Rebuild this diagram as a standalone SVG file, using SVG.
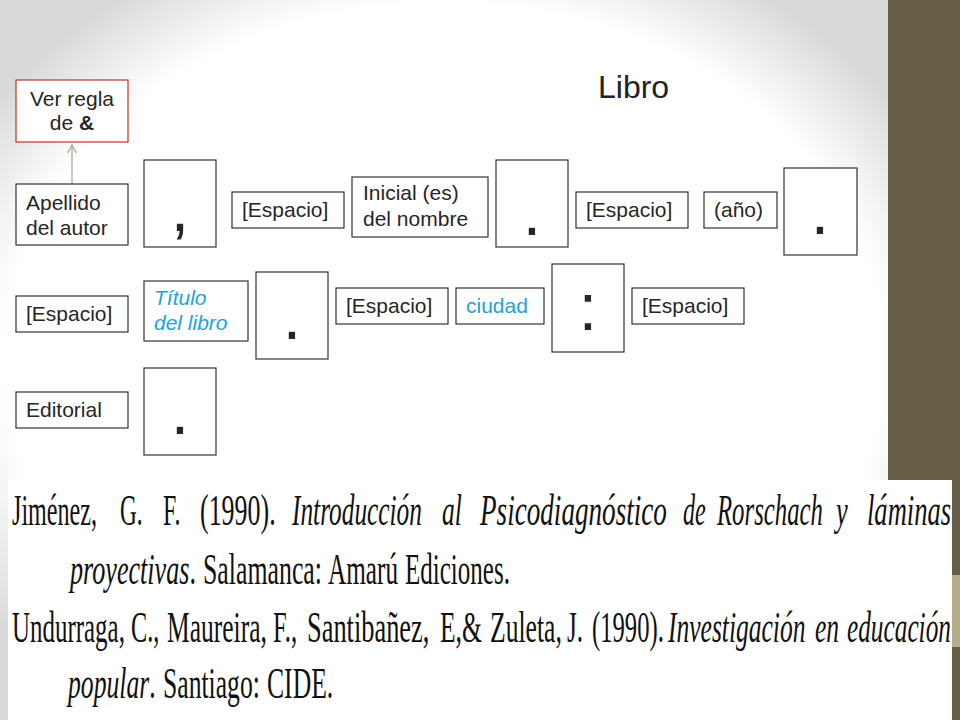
<svg xmlns="http://www.w3.org/2000/svg" width="960" height="720" viewBox="0 0 960 720">
<style>
.box{fill:#fff;stroke:#333;stroke-width:1.2}
.lbl{font-family:"Liberation Sans",Arial,sans-serif;font-size:21px;fill:#262626}
.blue{fill:#22a2de}
.it{font-style:italic}
.pun{font-family:"Liberation Sans",Arial,sans-serif;font-size:66px;fill:#262626;text-anchor:middle}
.ref{font-family:"Liberation Serif","Times New Roman",serif;font-size:44px;fill:#111}
</style>
<defs>
<radialGradient id="bg" cx="0.5" cy="0.5" r="0.62">
<stop offset="0" stop-color="#fff"/>
<stop offset="0.8" stop-color="#fff"/>
<stop offset="1" stop-color="#d9d9d9"/>
</radialGradient>
<marker id="arr" markerUnits="userSpaceOnUse" markerWidth="12" markerHeight="12" refX="9" refY="5" orient="auto">
<path d="M1,0.5 L9,5 L1,9.5" fill="none" stroke="#a9a28c" stroke-width="1.2"/>
</marker>
</defs>
<rect x="0" y="0" width="888" height="720" fill="url(#bg)"/>
<rect x="888" y="0" width="72" height="720" fill="#665e46"/>
<rect x="888" y="575" width="72" height="72" fill="#b4ac87"/>

<text x="598" y="98" font-family="Liberation Sans,Arial,sans-serif" font-size="32" fill="#222">Libro</text>

<g id="connectors">
<line x1="72" y1="184" x2="72" y2="145" stroke="#a9a28c" stroke-width="1.2" marker-end="url(#arr)"/>
</g>

<g id="n-regla">
<rect x="16" y="80" width="112" height="62" fill="#fff" stroke="#c4302b" stroke-width="1.2"/>
<text class="lbl" x="72" y="106" text-anchor="middle">Ver regla</text>
<text class="lbl" x="72" y="130" text-anchor="middle">de <tspan font-weight="bold">&amp;</tspan></text>
</g>
<g id="n-apellido">
<rect class="box" x="16" y="184" width="112" height="61"/>
<text class="lbl" x="26" y="210">Apellido</text>
<text class="lbl" x="26" y="235">del autor</text>
</g>
<g id="n-coma">
<rect class="box" x="144" y="160" width="72" height="87"/>
<text class="pun" x="180" y="231">,</text>
</g>
<g id="n-espacio1">
<rect class="box" x="232" y="192" width="112" height="36"/>
<text class="lbl" x="242" y="217">[Espacio]</text>
</g>
<g id="n-inicial">
<rect class="box" x="352" y="177" width="136" height="60"/>
<text class="lbl" x="363" y="200">Inicial (es)</text>
<text class="lbl" x="363" y="226">del nombre</text>
</g>
<g id="n-punto1">
<rect class="box" x="496" y="160" width="72" height="87"/>
<text class="pun" x="532" y="235.4">.</text>
</g>
<g id="n-espacio2">
<rect class="box" x="576" y="192" width="112" height="36"/>
<text class="lbl" x="586" y="217">[Espacio]</text>
</g>
<g id="n-anio">
<rect class="box" x="704" y="192" width="73" height="36"/>
<text class="lbl" x="714" y="217">(año)</text>
</g>
<g id="n-punto2">
<rect class="box" x="784" y="168" width="73" height="87"/>
<text class="pun" x="820" y="234.4">.</text>
</g>

<g id="n-espacio3">
<rect class="box" x="16" y="296" width="112" height="36"/>
<text class="lbl" x="26" y="321">[Espacio]</text>
</g>
<g id="n-titulo">
<rect class="box" x="144" y="281" width="104" height="60"/>
<text class="lbl blue it" x="154" y="305">Título</text>
<text class="lbl blue it" x="154" y="330">del libro</text>
</g>
<g id="n-punto3">
<rect class="box" x="256" y="272" width="72" height="87"/>
<text class="pun" x="292" y="339.4">.</text>
</g>
<g id="n-espacio4">
<rect class="box" x="336" y="288" width="112" height="36"/>
<text class="lbl" x="346" y="313">[Espacio]</text>
</g>
<g id="n-ciudad">
<rect class="box" x="456" y="288" width="88" height="36"/>
<text class="lbl blue" x="466" y="313">ciudad</text>
</g>
<g id="n-dospuntos">
<rect class="box" x="552" y="264" width="72" height="88"/>
<text class="pun" x="588" y="330.2" font-size="61">:</text>
</g>
<g id="n-espacio5">
<rect class="box" x="632" y="288" width="112" height="36"/>
<text class="lbl" x="642" y="313">[Espacio]</text>
</g>

<g id="n-editorial">
<rect class="box" x="16" y="392" width="112" height="36"/>
<text class="lbl" x="26" y="417">Editorial</text>
</g>
<g id="n-punto4">
<rect class="box" x="144" y="368" width="72" height="87"/>
<text class="pun" x="180" y="434.4">.</text>
</g>

<g id="ejemplos">
<rect x="8" y="480" width="944" height="240" fill="#fff"/>
<text class="ref" transform="translate(12 525) scale(0.548 1)">Jiménez,</text>
<text class="ref" transform="translate(120 525) scale(0.53 1)">G.</text>
<text class="ref" transform="translate(163 525) scale(0.545 1)">F.</text>
<text class="ref" transform="translate(200 525) scale(0.59 1)">(1990).</text>
<text class="ref it" transform="translate(292 525) scale(0.576 1)">Introducción</text>
<text class="ref it" transform="translate(442 525) scale(0.58 1)">al</text>
<text class="ref it" transform="translate(480 525) scale(0.617 1)">Psicodiagnóstico</text>
<text class="ref it" transform="translate(683 525) scale(0.55 1)">de</text>
<text class="ref it" transform="translate(717 525) scale(0.563 1)">Rorschach</text>
<text class="ref it" transform="translate(836 525) scale(0.6 1)">y</text>
<text class="ref it" transform="translate(867 525) scale(0.603 1)">láminas</text>

<text class="ref" transform="translate(70 584) scale(0.594 1)"><tspan class="it">proyectivas</tspan>.</text>
<text class="ref" transform="translate(203 584) scale(0.587 1)">Salamanca:</text>
<text class="ref" transform="translate(328 584) scale(0.573 1)">Amarú</text>
<text class="ref" transform="translate(405 584) scale(0.569 1)">Ediciones.</text>

<text class="ref" transform="translate(12 642) scale(0.567 1)">Undurraga,</text>
<text class="ref" transform="translate(131 642) scale(0.55 1)">C.,</text>
<text class="ref" transform="translate(167 642) scale(0.58 1)">Maureira,</text>
<text class="ref" transform="translate(273 642) scale(0.56 1)">F.,</text>
<text class="ref" transform="translate(307 642) scale(0.6 1)">Santibañez,</text>
<text class="ref" transform="translate(440 642) scale(0.58 1)">E,&amp;</text>
<text class="ref" transform="translate(490 642) scale(0.583 1)">Zuleta,</text>
<text class="ref" transform="translate(567 642) scale(0.57 1)">J.</text>
<text class="ref" transform="translate(592 642) scale(0.56 1)">(1990).</text>
<text class="ref it" transform="translate(668 642) scale(0.58 1)">Investigación</text>
<text class="ref it" transform="translate(815 642) scale(0.58 1)">en</text>
<text class="ref it" transform="translate(847 642) scale(0.575 1)">educación</text>

<text class="ref" transform="translate(68 698) scale(0.583 1)"><tspan class="it">popular</tspan>.</text>
<text class="ref" transform="translate(163 698) scale(0.583 1)">Santiago:</text>
<text class="ref" transform="translate(267 698) scale(0.583 1)">CIDE.</text>
</g>
</svg>
